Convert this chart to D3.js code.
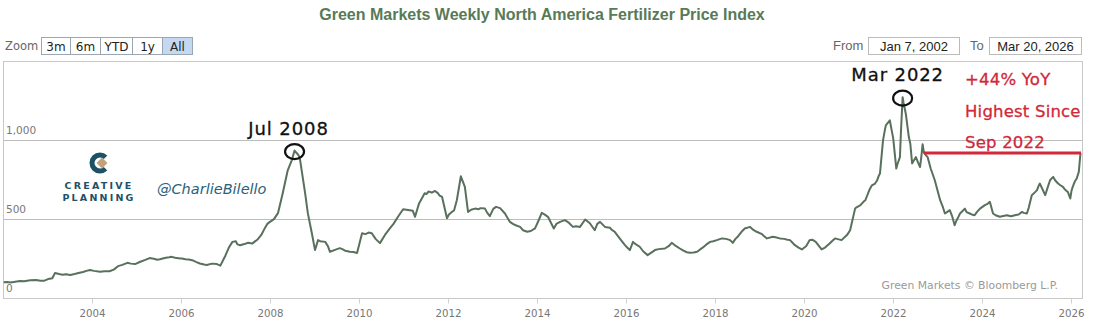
<!DOCTYPE html>
<html>
<head>
<meta charset="utf-8">
<script src="https://cdn.jsdelivr.net/npm/d3@7"></script>
<style>
  html, body { margin: 0; padding: 0; background: #fff; }
  svg { display: block; }
</style>
</head>
<body>
<svg id="chart" width="1096" height="328"></svg>
<script>
// Weekly index readings (sampled); sorted by date when the series is built
const dates = [
  "2002-01-07","2002-03-04","2002-05-20","2002-08-12","2002-11-04","2003-01-06","2003-03-03","2003-05-05",
  "2003-07-07","2003-09-22","2003-12-15","2004-03-08","2004-05-24","2004-08-02","2004-10-18","2004-12-20",
  "2005-02-01","2005-04-18","2005-07-11","2005-08-29","2005-10-17","2005-12-26","2006-02-06","2006-04-03",
  "2006-06-05","2006-08-01","2006-09-11","2006-10-23","2006-11-20","2007-01-01","2007-02-27","2007-03-27",
  "2007-05-01","2007-07-06","2007-08-08","2007-09-24","2007-11-20","2008-01-01","2008-02-03","2008-03-07",
  "2008-04-15","2008-05-26","2008-06-28","2008-07-21","2008-08-18","2008-09-01","2008-10-16","2008-11-07",
  "2008-12-10","2009-01-05","2009-01-30","2009-03-30","2009-05-08","2009-06-18","2009-07-27","2009-09-09",
  "2009-10-19","2009-12-16","2010-01-26","2010-04-16","2010-06-22","2010-09-13","2010-11-17","2010-12-29",
  "2011-03-19","2011-04-06","2011-06-24","2011-08-08","2011-09-17","2011-11-14","2011-12-24","2012-02-02",
  "2012-03-14","2012-04-16","2012-05-19","2012-06-14","2012-08-11","2012-10-31","2012-12-10","2013-01-30",
  "2013-04-13","2013-05-23","2013-08-15","2013-10-12","2013-12-16","2014-02-09","2014-04-01","2014-05-19",
  "2014-07-09","2014-08-18","2014-10-23","2014-12-20","2015-01-31","2015-03-11","2015-04-20","2015-06-02",
  "2015-07-13","2015-10-01","2015-12-24","2016-02-02","2016-02-28","2016-04-23","2016-06-27","2016-08-26",
  "2016-11-16","2017-01-11","2017-03-18","2017-06-10","2017-08-07","2017-09-24","2017-11-22","2018-01-16",
  "2018-02-27","2018-05-05","2018-05-27","2018-07-10","2018-09-02","2018-10-16","2018-12-09","2019-01-22",
  "2019-03-03","2019-04-20","2019-06-17","2019-09-09","2019-10-19","2019-12-15","2020-02-16","2020-04-07",
  "2020-05-25","2020-07-30","2020-09-12","2020-11-05","2020-12-19","2021-01-14","2021-02-24","2021-04-09",
  "2021-05-19","2021-06-24","2021-08-07","2021-09-16","2021-10-11","2021-11-03","2021-12-06","2022-01-03",
  "2022-01-28","2022-02-27","2022-03-21","2022-04-16","2022-05-11","2022-06-07","2022-07-08","2022-08-11",
  "2022-09-01","2022-09-12","2022-10-12","2022-12-10","2023-01-23","2023-03-03","2023-04-12","2023-05-22",
  "2023-07-05","2023-08-14","2023-09-23","2023-11-02","2023-12-16","2024-01-25","2024-03-06","2024-04-01",
  "2024-05-27","2024-07-24","2024-09-28","2024-11-25","2025-01-04","2025-02-13","2025-03-28","2025-04-20",
  "2025-06-03","2025-07-13","2025-08-08","2025-09-17","2025-10-27","2025-12-06","2025-12-26","2026-01-15",
  "2026-02-17","2026-03-06","2026-03-20",
  // in-between weeks
  "2002-02-04","2002-06-24","2002-09-30","2002-12-02","2003-02-10","2003-04-07","2003-06-02","2003-08-11",
  "2003-10-20","2003-11-17","2004-01-19","2004-04-12","2004-06-28","2004-09-06","2004-11-15","2005-03-14",
  "2005-05-23","2005-06-20","2005-09-26","2005-11-14","2006-01-09","2006-03-06","2006-05-08","2006-07-10",
  "2007-01-29","2007-04-09","2007-06-04","2007-10-22","2007-12-10","2009-02-16","2009-04-20","2009-08-17",
  "2009-11-16","2010-02-22","2010-03-22","2010-05-17","2010-08-02","2010-10-11","2011-02-07","2011-05-09",
  "2011-07-11","2011-07-25","2011-08-22","2011-10-10","2011-10-24","2012-01-09","2012-02-20","2012-07-09",
  "2012-09-10","2012-09-24","2012-11-19","2013-01-07","2013-03-04","2013-06-17","2013-07-15","2013-09-09",
  "2013-11-11","2014-01-13","2014-03-03","2014-06-09","2014-09-15","2014-11-17","2015-05-11","2015-08-24",
  "2015-09-07","2015-11-09","2016-01-11","2016-03-14","2016-05-23","2016-09-26","2016-12-19","2017-02-13",
  "2017-04-17","2017-05-15","2017-07-10","2017-10-23","2017-12-18","2018-04-02","2018-06-18","2018-08-13",
  "2018-11-12","2019-02-04","2019-05-13","2019-07-22","2019-08-19","2019-11-18","2020-01-20","2020-03-09",
  "2020-06-22","2020-08-24","2020-10-12","2021-03-08","2021-05-03","2021-07-12","2021-08-23","2021-09-06",
  "2021-10-25","2022-02-07","2022-03-07","2022-03-28","2022-05-23","2022-06-20","2022-07-25","2022-08-22",
  "2022-11-07","2023-02-13","2023-03-20","2023-05-01","2023-06-05","2023-06-19","2023-07-24","2023-08-28",
  "2023-10-09","2023-11-20","2024-02-12","2024-03-18","2024-04-22","2024-06-24","2024-08-26","2024-10-28",
  "2024-12-09","2025-01-20","2025-03-10","2025-04-07","2025-05-12","2025-06-23","2025-07-28","2025-08-25",
  "2025-10-06","2025-11-10","2026-01-05","2026-02-02"
];
const values = [
  100, 98, 108, 112, 110, 120, 158, 148,
  146, 160, 177, 166, 170, 202, 223, 215,
  230, 253, 246, 255, 261, 251, 246, 240,
  219, 209, 218, 215, 205, 270, 356, 360,
  335, 350, 345, 373, 443, 483, 500, 538,
  664, 810, 873, 935, 910, 894, 664, 538,
  411, 304, 367, 356, 293, 305, 316, 300,
  293, 285, 411, 411, 348, 443, 515, 563,
  553, 515, 664, 672, 679, 641, 506, 546,
  620, 772, 705, 546, 567, 567, 519, 578,
  536, 483, 451, 420, 441, 540, 515, 441,
  483, 494, 451, 451, 498, 474, 430, 483,
  451, 420, 335, 304, 356, 325, 272, 304,
  314, 350, 314, 287, 293, 321, 356, 367,
  378, 367, 350, 392, 441, 451, 420, 405,
  378, 388, 378, 367, 335, 308, 367, 356,
  308, 346, 378, 367, 399, 430, 567, 589,
  620, 690, 726, 789, 1000, 1095, 1127, 1011,
  821, 894, 1274, 1169, 1021, 853, 894, 831,
  975, 920, 894, 747, 620, 536, 557, 462,
  536, 567, 536, 525, 567, 589, 610, 536,
  515, 525, 525, 546, 536, 652, 684, 726,
  652, 747, 768, 726, 705, 673, 631, 705,
  758, 800, 920,
  // in-between weeks
  102, 106, 114, 109, 125, 152, 150, 152,
  165, 172, 172, 170, 180, 210, 218, 242,
  249, 243, 258, 255, 250, 244, 228, 212,
  320, 340, 342, 400, 470, 360, 330, 310,
  292, 405, 415, 375, 400, 470, 558, 600,
  660, 675, 668, 665, 650, 530, 555, 560,
  563, 570, 540, 565, 570, 470, 460, 430,
  425, 490, 530, 470, 480, 455, 470, 445,
  432, 380, 320, 345, 295, 310, 330, 330,
  300, 290, 288, 340, 360, 375, 375, 425,
  432, 395, 385, 375, 370, 320, 330, 370,
  320, 365, 372, 575, 610, 715, 745, 775,
  1060, 850, 1050, 1240, 980, 870, 860, 900,
  820, 580, 545, 520, 490, 510, 550, 545,
  530, 545, 595, 575, 525, 520, 518, 530,
  540, 575, 670, 705, 690, 700, 760, 745,
  715, 690, 680, 740
];
const yTickValues = [0, 500, 1000];
const yTickLabels = ["0", "500", "1,000"];
const xTickYears = [2004, 2006, 2008, 2010, 2012, 2014, 2016, 2018, 2020, 2022, 2024, 2026];
const zoomButtons = ["3m", "6m", "YTD", "1y", "All"];
const peaks = [
  { label: "Jul 2008", date: "2008-07-21", value: 935 },
  { label: "Mar 2022", date: "2022-03-21", value: 1274 }
];
const noteLines = ["+44% YoY", "Highest Since", "Sep 2022"];
const noteFrom = "2022-09-12";

const parse = d3.timeParse("%Y-%m-%d");
const data = dates.map((d, i) => ({ date: parse(d), value: values[i] }))
  .sort((a, b) => a.date - b.date);

const svg = d3.select("#chart");
const plot = { left: 3, right: 1082, top: 61, bottom: 298 };
const sans = "Liberation Sans, Arial, sans-serif";

const x = d3.scaleTime()
  .domain([new Date(2002, 0, 1), new Date(2026, 0, 1)])
  .range([3, 1071]);
const y = d3.scaleLinear().domain([0, 1500]).range([plot.bottom, plot.top + 0.5]);

// Title
svg.append("text")
  .attr("x", 542).attr("y", 20)
  .attr("text-anchor", "middle")
  .attr("font-family", sans)
  .attr("font-weight", "bold")
  .attr("font-size", 16)
  .attr("fill", "#587a56")
  .text("Green Markets Weekly North America Fertilizer Price Index");

// Range selector
const ui = svg.append("g").attr("font-family", "DejaVu Sans, Verdana, sans-serif");
ui.append("text").attr("x", 5).attr("y", 50).attr("font-size", 11.5).attr("fill", "#666").text("Zoom");
const btnW = [29, 30, 32, 30, 30];
let bx = 41;
zoomButtons.forEach((b, i) => {
  const g = ui.append("g").attr("transform", `translate(${bx + 0.5},37.5)`);
  g.append("rect").attr("width", btnW[i]).attr("height", 17)
    .attr("fill", b === "All" ? "#c4d8f2" : "#fff")
    .attr("stroke", "#9aa6b4").attr("stroke-width", 1);
  g.append("text").attr("x", btnW[i] / 2).attr("y", 13).attr("text-anchor", "middle")
    .attr("font-size", 12).attr("fill", "#222").text(b);
  bx += btnW[i];
});
ui.append("text").attr("x", 833).attr("y", 50).attr("font-family", sans)
  .attr("font-size", 13).attr("fill", "#666").text("From");
ui.append("rect").attr("x", 868.5).attr("y", 37.5).attr("width", 91).attr("height", 17)
  .attr("fill", "#fff").attr("stroke", "#bbb");
ui.append("text").attr("x", 914).attr("y", 50.5).attr("text-anchor", "middle")
  .attr("font-family", sans).attr("font-size", 13).attr("fill", "#222").text("Jan 7, 2002");
ui.append("text").attr("x", 970).attr("y", 50).attr("font-family", sans)
  .attr("font-size", 13).attr("fill", "#666").text("To");
ui.append("rect").attr("x", 989.5).attr("y", 37.5).attr("width", 92).attr("height", 17)
  .attr("fill", "#fff").attr("stroke", "#bbb");
ui.append("text").attr("x", 1035.5).attr("y", 50.5).attr("text-anchor", "middle")
  .attr("font-family", sans).attr("font-size", 13).attr("fill", "#222").text("Mar 20, 2026");

// Plot frame
svg.append("rect")
  .attr("x", plot.left + 0.5).attr("y", plot.top + 0.5)
  .attr("width", plot.right - plot.left).attr("height", plot.bottom - plot.top)
  .attr("fill", "none").attr("stroke", "#c8c8c8");

// Horizontal grid
svg.append("g").selectAll("line").data(yTickValues.filter(v => v > 0)).join("line")
  .attr("x1", plot.left).attr("x2", plot.right)
  .attr("y1", d => Math.round(y(d)) + 0.5).attr("y2", d => Math.round(y(d)) + 0.5)
  .attr("stroke", "#bdbdbd");

// Y labels
svg.append("g").selectAll("text").data(yTickValues).join("text")
  .attr("x", 6).attr("y", d => y(d) - 6)
  .attr("font-family", "DejaVu Sans, sans-serif").attr("font-size", 10.5).attr("fill", "#777")
  .text((d, i) => yTickLabels[i]);

// X axis
const xAxis = d3.axisBottom(x)
  .tickValues(xTickYears.map(yv => new Date(yv, 0, 1)))
  .tickFormat(d3.timeFormat("%Y"))
  .tickSize(5).tickSizeOuter(0);
const xg = svg.append("g").attr("transform", `translate(0,${plot.bottom + 0.5})`).call(xAxis);
xg.select(".domain").attr("stroke", "#c8c8c8").attr("d", `M${plot.left},0H${plot.right}`);
xg.selectAll(".tick line").attr("stroke", "#d0d0d0");
xg.selectAll(".tick text")
  .attr("font-family", "DejaVu Sans Condensed, DejaVu Sans, sans-serif")
  .attr("font-size", 11).attr("fill", "#777").attr("dy", "0.95em")
  .attr("textLength", 26).attr("lengthAdjust", "spacingAndGlyphs");

// Source credit
svg.append("text").attr("x", 1058).attr("y", 289).attr("text-anchor", "end")
  .attr("font-family", "DejaVu Sans, sans-serif").attr("font-size", 10.8).attr("fill", "#9a9a9a")
  .text("Green Markets \u00a9 Bloomberg L.P.");

// Series line
svg.append("defs").append("clipPath").attr("id", "clip")
  .append("rect").attr("x", plot.left).attr("y", plot.top)
  .attr("width", plot.right - plot.left).attr("height", plot.bottom - plot.top);
const line = d3.line().x(d => x(d.date)).y(d => y(d.value));
svg.append("path").datum(data)
  .attr("clip-path", "url(#clip)")
  .attr("fill", "none").attr("stroke", "#58705c").attr("stroke-width", 2)
  .attr("stroke-linejoin", "round").attr("d", line);

// Logo
const logo = svg.append("g").attr("transform", "translate(100,163)");
logo.append("path")
  .attr("d", d3.arc()({ innerRadius: 5.5, outerRadius: 10.5,
    startAngle: Math.PI / 2 + 0.8, endAngle: Math.PI / 2 + 2 * Math.PI - 0.8 }))
  .attr("fill", "#1d5166");
logo.append("path").attr("d", "M2,-5.5 L7.5,0 L2,5.5 L-3.5,0 Z").attr("fill", "#c2a27a");
svg.append("g").attr("font-family", "DejaVu Sans, sans-serif").attr("font-weight", "bold")
  .attr("font-size", 9.5).attr("fill", "#1d5166").attr("text-anchor", "middle")
  .call(g => {
    g.append("text").attr("x", 99).attr("y", 189).attr("letter-spacing", 2.2).text("CREATIVE");
    g.append("text").attr("x", 99).attr("y", 201).attr("letter-spacing", 2.2).text("PLANNING");
  });
svg.append("text").attr("x", 157).attr("y", 194)
  .attr("font-family", "DejaVu Sans, sans-serif").attr("font-style", "italic")
  .attr("font-size", 14.5).attr("fill", "#2b6179")
  .text("@CharlieBilello");

// Peak annotations
const hand = svg.append("g").attr("font-family", "DejaVu Sans, sans-serif");
peaks.forEach((p, i) => {
  const cx = x(parse(p.date)), cy = y(p.value);
  hand.append("ellipse").attr("cx", cx).attr("cy", cy + 1).attr("rx", 9.5).attr("ry", 7.5)
    .attr("fill", "none").attr("stroke", "#111").attr("stroke-width", 2.2);
  hand.append("text").attr("x", cx + (i === 0 ? -6 : -5)).attr("y", cy - 16)
    .attr("text-anchor", "middle").attr("font-size", 18).attr("fill", "#111")
    .attr("letter-spacing", 0.9).attr("stroke", "#111").attr("stroke-width", 0.3)
    .text(p.label);
});

// Year-over-year note
const lastPt = data[data.length - 1];
svg.append("line")
  .attr("x1", x(parse(noteFrom))).attr("x2", plot.right - 1)
  .attr("y1", y(lastPt.value)).attr("y2", y(lastPt.value))
  .attr("stroke", "#d1283a").attr("stroke-width", 3);
hand.append("g").selectAll("text").data(noteLines).join("text")
  .attr("x", 965).attr("y", (d, i) => 85 + i * 31.5)
  .attr("font-size", 16.5).attr("fill", "#d1283a").attr("letter-spacing", 0.2)
  .attr("stroke", "#d1283a").attr("stroke-width", 0.3)
  .text(d => d);
</script>
</body>
</html>
